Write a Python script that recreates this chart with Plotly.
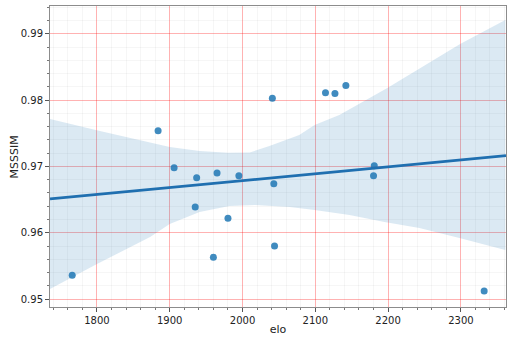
import numpy as np
import plotly.graph_objects as go

# scatter points
elo = [1766, 1884, 1906, 1937, 1935, 1960, 1965, 1980, 1995,
       2041, 2043, 2044, 2114, 2127, 2142, 2181, 2180, 2332]
msssim = [0.9536, 0.9754, 0.9698, 0.9683, 0.9639, 0.9563, 0.9690, 0.9622, 0.9686,
          0.9803, 0.9674, 0.9580, 0.9811, 0.9810, 0.9822, 0.9701, 0.9686, 0.9512]

# confidence band edges (bootstrap band from the reference, read by eye)
band_x_hi = [1735.5, 1804, 1900, 1941, 1980, 2010, 2037, 2078, 2099, 2133, 2199, 2299, 2361]
band_hi = [0.97715, 0.97534, 0.97293, 0.97232, 0.97205, 0.97210, 0.97310, 0.97474,
           0.97624, 0.97775, 0.98183, 0.98846, 0.99208]
band_x_lo = [1735.5, 1800, 1873, 1900, 1941, 1982, 2017, 2065, 2099, 2147,
             2195, 2243, 2298, 2361]
band_lo = [0.95151, 0.95528, 0.95935, 0.96131, 0.96312, 0.96403, 0.96418,
           0.96388, 0.96342, 0.96267, 0.96161, 0.96071, 0.95920, 0.95739]

x_range = [1735.5, 2362]
y_range = [0.9488, 0.9942]

# least squares fit line
slope, icpt = np.polyfit(elo, msssim, 1)
line_x = np.array(x_range)
line_y = slope * line_x + icpt

fig = go.Figure()
fig.add_trace(go.Scatter(
    x=band_x_hi + band_x_lo[::-1], y=band_hi + band_lo[::-1],
    fill='toself', fillcolor='rgba(31,119,180,0.16)',
    line=dict(width=0), mode='lines', hoverinfo='skip'))
fig.add_trace(go.Scatter(x=elo, y=msssim, mode='markers',
                         marker=dict(color='rgba(31,119,180,0.85)', size=7)))
fig.add_trace(go.Scatter(x=line_x, y=line_y, mode='lines',
                         line=dict(color='#1f6fb0', width=2.8)))

axis_common = dict(
    showline=True, linecolor='#8c8c8c', linewidth=1, mirror=True,
    ticks='outside', ticklen=4, tickcolor='#555555',
    gridcolor='rgba(255,0,0,0.3)', gridwidth=1, zeroline=False,
    automargin=False,
    tickfont=dict(family='DejaVu Sans', size=10, color='#222222'),
)

fig.update_xaxes(range=x_range, dtick=100, tick0=1800,
                 title=dict(text='elo', standoff=0,
                            font=dict(family='DejaVu Sans', size=11, color='#222222')),
                 minor=dict(dtick=20, ticks='outside', ticklen=2, tickcolor='#777777',
                            showgrid=True, gridcolor='rgba(0,0,0,0.035)'),
                 **axis_common)
fig.update_yaxes(range=y_range, dtick=0.01, tick0=0.95, tickformat='.2f',
                 minor=dict(dtick=0.002, ticks='outside', ticklen=2, tickcolor='#777777',
                            showgrid=True, gridcolor='rgba(0,0,0,0.035)'),
                 **axis_common)

# y title placed as an annotation to sit closer to the tick labels
fig.add_annotation(text='MSSSIM', textangle=-90, showarrow=False,
                   xref='paper', yref='paper', x=-0.077, y=0.5,
                   xanchor='center', yanchor='middle',
                   font=dict(family='DejaVu Sans', size=11, color='#222222'))

fig.update_layout(width=512, height=348, showlegend=False,
                  margin=dict(l=50, r=6, t=6, b=41),
                  plot_bgcolor='white', paper_bgcolor='white')
# drop the browser's default body margin so the figure sits at 0,0
fig.write_html("out.html", config={'displayModeBar': False},
               post_script="document.body.style.margin='0';")
